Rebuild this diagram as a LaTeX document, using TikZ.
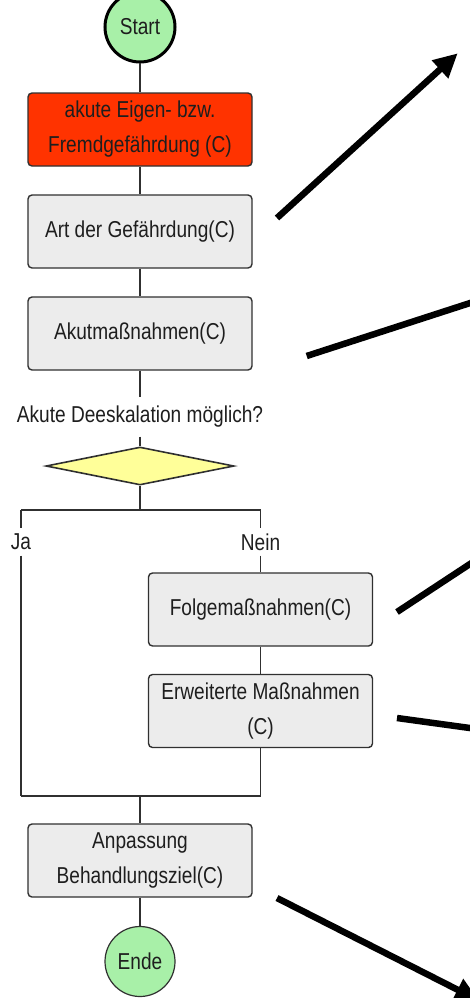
\documentclass[tikz,border=0pt]{standalone}
\usepackage{fontspec}
\setmainfont[FakeStretch=0.83]{Liberation Sans}
\usetikzlibrary{arrows.meta,shapes.geometric}

\definecolor{edge}{HTML}{303030}
\definecolor{txt}{HTML}{1E1E1E}
\definecolor{boxgray}{HTML}{ECECEC}
\definecolor{alarm}{HTML}{FF3300}
\definecolor{termgreen}{HTML}{A8F0A8}
\definecolor{decyellow}{HTML}{FFFF99}

\begin{document}
\begin{tikzpicture}[x=1pt,y=-1pt,
  font=\fontsize{23}{35}\selectfont,
  every node/.style={text=txt},
  flow/.style={draw=edge, line width=1.4pt},
  stepbox/.style={draw=edge, line width=1.4pt, rounded corners=4pt,
    fill=boxgray, minimum width=224pt, minimum height=73pt,
    align=center, inner sep=0pt},
  terminal/.style={circle, fill=termgreen, minimum size=70pt, inner sep=0pt},
  decision/.style={diamond, draw=edge, line width=1.6pt, fill=decyellow,
    minimum width=188pt, minimum height=38pt, inner sep=0pt},
  branchlabel/.style={minimum height=27pt, inner sep=0pt},
  pointer/.style={line width=6.5pt, black},
  pointerhead/.style={-{Triangle[length=24pt,width=23pt]}}]

\useasboundingbox (0,0) rectangle (470,998);

% flow chart nodes
\node[terminal, draw=black, line width=3pt] (start) at (140,27) {Start};
\node[stepbox, fill=alarm] (acute) at (140,129.5) {akute Eigen- bzw.\\Fremdgefährdung (C)};
\node[stepbox] (kind) at (140,231.5) {Art der Gefährdung(C)};
\node[stepbox] (urgent) at (140,333.5) {Akutmaßnahmen(C)};
\node[minimum height=39pt, inner sep=0pt] (question) at (140,417) {Akute Deeskalation möglich?};
\node[decision] (choice) at (140,466) {};

\coordinate (split) at (140,510);
\coordinate (splitL) at (21,510);
\coordinate (splitR) at (260.5,510);
\node[branchlabel] (yes) at (21,542) {Ja};
\node[branchlabel] (no) at (260.5,542) {Nein};

\node[stepbox] (follow) at (260.5,609.5) {Folgemaßnahmen(C)};
\node[stepbox] (extended) at (260.5,711) {Erweiterte Maßnahmen\\(C)};

\coordinate (mergeL) at (21,796);
\coordinate (mergeR) at (260.5,796);
\coordinate (merge) at (140,796);

\node[stepbox] (adjust) at (140,860.5) {Anpassung\\Behandlungsziel(C)};
\node[terminal, draw=edge, line width=1.2pt] (end) at (140,961.5) {Ende};

% connectors
\draw[flow] (start) -- (acute);
\draw[flow] (acute) -- (kind);
\draw[flow] (kind) -- (urgent);
\draw[flow] (urgent) -- (question);
\draw[flow] (question) -- (choice);
\draw[flow] (choice) -- (split);
\draw[flow] (splitL) -- (splitR);
\draw[flow] (splitL) -- (yes);
\draw[flow] (yes) -- (mergeL);
\draw[flow] (splitR) -- (no);
\draw[flow] (no) -- (follow);
\draw[flow] (follow) -- (extended);
\draw[flow] (extended) -- (mergeR);
\draw[flow] (mergeL) -- (mergeR);
\draw[flow] (merge) -- (adjust);
\draw[flow] (adjust) -- (end);

% heavy pointers leading off to the right
\coordinate (p1s) at (277,218);
\coordinate (p1e) at (457.7,53.3);
\coordinate (p2s) at (306.7,356);
\coordinate (p2e) at (480,299.8);
\coordinate (p3s) at (397,612);
\coordinate (p3e) at (480,557.4);
\coordinate (p4s) at (397,718);
\coordinate (p4e) at (480,729.4);
\coordinate (p5s) at (277,898);
\coordinate (p5e) at (479,1000.6);

\draw[pointer, pointerhead] (p1s) -- (p1e);
\draw[pointer] (p2s) -- (p2e);
\draw[pointer] (p3s) -- (p3e);
\draw[pointer] (p4s) -- (p4e);
\draw[pointer, pointerhead] (p5s) -- (p5e);
\end{tikzpicture}
\end{document}
